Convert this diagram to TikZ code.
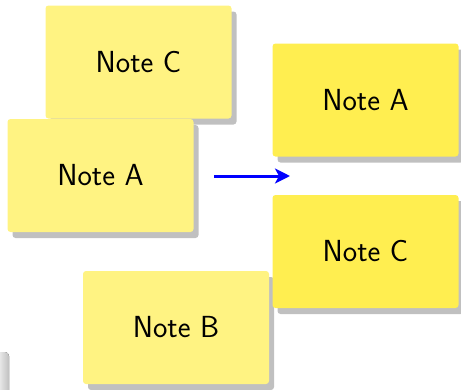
\documentclass[tikz,border=0pt]{standalone}
\usetikzlibrary{shadows,arrows.meta}
\definecolor{notepale}{RGB}{255,243,130}
\definecolor{notebright}{RGB}{255,238,80}
\definecolor{shadowgray}{RGB}{192,192,192}
\begin{document}
\begin{tikzpicture}[x=1pt,y=-1pt,
  note/.style={rectangle, rounded corners=3pt, minimum width=186pt, minimum height=113pt,
    inner sep=0pt, font=\sffamily\fontsize{30.5}{36}\selectfont,
    drop shadow={shadow xshift=5pt, shadow yshift=-6pt, fill=shadowgray, opacity=1}},
  pale/.style={note, fill=notepale},
  bright/.style={note, fill=notebright},
  flow/.style={draw=blue, line width=3pt, -{Stealth[length=15pt,width=15pt,inset=4pt]}}]
\useasboundingbox (0,0) rectangle (461,389);
\fill[left color=white, right color=shadowgray, rounded corners=4pt] (-6,352) rectangle (9,395);
\node[pale] (cl) at (138.5,62) {Note C};
\node[pale] (al) at (100.5,175.5) {Note A};
\node[pale] (bl) at (176,327.5) {Note B};
\node[bright] (ar) at (365.5,100) {Note A};
\node[bright] (cr) at (365.5,251.5) {Note C};
\coordinate (s) at (214,176);
\coordinate (t) at (290,176);
\draw[flow] (s) -- (t);
\end{tikzpicture}
\end{document}
